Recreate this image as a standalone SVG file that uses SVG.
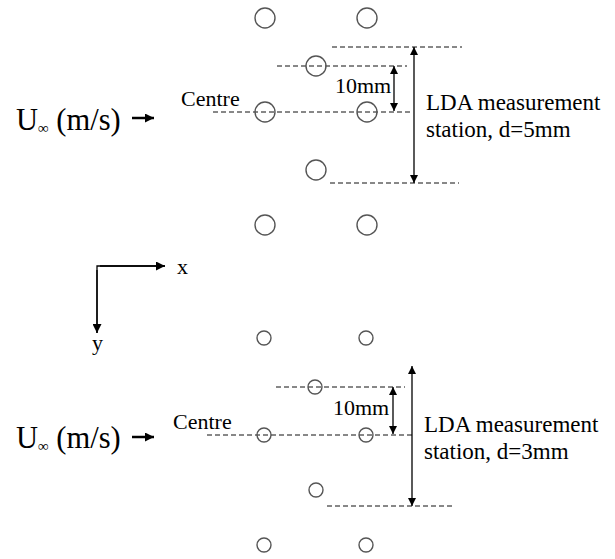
<svg xmlns="http://www.w3.org/2000/svg" width="615" height="559" viewBox="0 0 615 559" font-family="'Liberation Serif', 'Times New Roman', serif">
<style>
text{font-family:"Liberation Serif","Times New Roman",serif;fill:#000}
.lbl{font-size:23px}
.mm{font-size:22px}
.ctr{font-size:22px}
.u{font-size:30.5px}
.sub{font-size:15px}
.ax{font-size:22px}
.cyl{fill:none;stroke:#555;stroke-width:1.4}
.dash{stroke:#111;stroke-width:1;stroke-dasharray:5,3;fill:none}
.ar{stroke:#000;stroke-width:1.3;fill:none}
.flow{stroke:#000;stroke-width:2.5;fill:none}
</style>
<defs>
<marker id="ah" viewBox="0 0 10 10" refX="10" refY="5" markerWidth="8" markerHeight="8" markerUnits="userSpaceOnUse" orient="auto-start-reverse"><path d="M0,0 L10,5 L0,10 Z" fill="#000"/></marker>
<marker id="ahf" viewBox="0 0 10 10" refX="10" refY="5" markerWidth="9" markerHeight="9" markerUnits="userSpaceOnUse" orient="auto"><path d="M0,0 L10,5 L0,10 Z" fill="#000"/></marker>
<marker id="ahx" viewBox="0 0 10 10" refX="10" refY="5" markerWidth="9" markerHeight="9" markerUnits="userSpaceOnUse" orient="auto"><path d="M0,0 L10,5 L0,10 Z" fill="#000"/></marker>
</defs>

<g id="connectors">
<line class="dash" x1="332" y1="47" x2="462" y2="47"/>
<line class="dash" x1="277" y1="66" x2="407" y2="66"/>
<line class="dash" x1="213" y1="112" x2="413" y2="112"/>
<line class="dash" x1="330" y1="183" x2="459" y2="183"/>
<line class="ar" x1="414" y1="47" x2="414" y2="183" marker-start="url(#ah)" marker-end="url(#ah)"/>
<line class="ar" x1="394" y1="66" x2="394" y2="111" marker-start="url(#ah)" marker-end="url(#ah)"/>
<line class="flow" x1="132" y1="118" x2="154" y2="118" marker-end="url(#ahf)"/>
<polyline class="ar" points="97,333 97,266 165,266"/>
<line class="ar" x1="97" y1="270" x2="97" y2="333" marker-end="url(#ahx)"/>
<line class="ar" x1="100" y1="266" x2="165" y2="266" marker-end="url(#ahx)"/>
<line class="dash" x1="276" y1="387" x2="405" y2="387"/>
<line class="dash" x1="207" y1="435" x2="413" y2="435"/>
<line class="dash" x1="327" y1="506" x2="455" y2="506"/>
<line class="ar" x1="412" y1="366" x2="412" y2="506" marker-start="url(#ah)" marker-end="url(#ah)"/>
<line class="ar" x1="393" y1="387" x2="393" y2="434" marker-start="url(#ah)" marker-end="url(#ah)"/>
<line class="flow" x1="132" y1="437" x2="154" y2="437" marker-end="url(#ahf)"/>
</g>

<g id="cylinders-top">
<circle class="cyl" cx="265" cy="18" r="10"/>
<circle class="cyl" cx="367" cy="18" r="10"/>
<circle class="cyl" cx="316" cy="66" r="10"/>
<circle class="cyl" cx="265" cy="112" r="10"/>
<circle class="cyl" cx="367" cy="112" r="10"/>
<circle class="cyl" cx="316" cy="170" r="10"/>
<circle class="cyl" cx="265" cy="225" r="10"/>
<circle class="cyl" cx="367" cy="225" r="10"/>
</g>

<g id="cylinders-bottom">
<circle class="cyl" cx="264" cy="338" r="7"/>
<circle class="cyl" cx="366" cy="338" r="7"/>
<circle class="cyl" cx="315" cy="387" r="7"/>
<circle class="cyl" cx="264" cy="435" r="7"/>
<circle class="cyl" cx="366" cy="435" r="7"/>
<circle class="cyl" cx="316" cy="490" r="7"/>
<circle class="cyl" cx="264" cy="545" r="7"/>
<circle class="cyl" cx="366" cy="545" r="7"/>
</g>

<g id="labels-top">
<text class="u" x="16" y="130">U<tspan class="sub" dy="3">∞</tspan><tspan dy="-3"> (m/s)</tspan></text>
<text class="ctr" x="181" y="106">Centre</text>
<text class="mm" x="335" y="93">10mm</text>
<text class="lbl" x="426" y="110">LDA measurement</text>
<text class="lbl" x="426" y="137">station, d=5mm</text>
</g>

<g id="axes-labels">
<text class="ax" x="177" y="274">x</text>
<text class="ax" x="92" y="350">y</text>
</g>

<g id="labels-bottom">
<text class="u" x="16" y="448">U<tspan class="sub" dy="3">∞</tspan><tspan dy="-3"> (m/s)</tspan></text>
<text class="ctr" x="173" y="429">Centre</text>
<text class="mm" x="333" y="415">10mm</text>
<text class="lbl" x="424" y="432">LDA measurement</text>
<text class="lbl" x="424" y="459">station, d=3mm</text>
</g>
</svg>
